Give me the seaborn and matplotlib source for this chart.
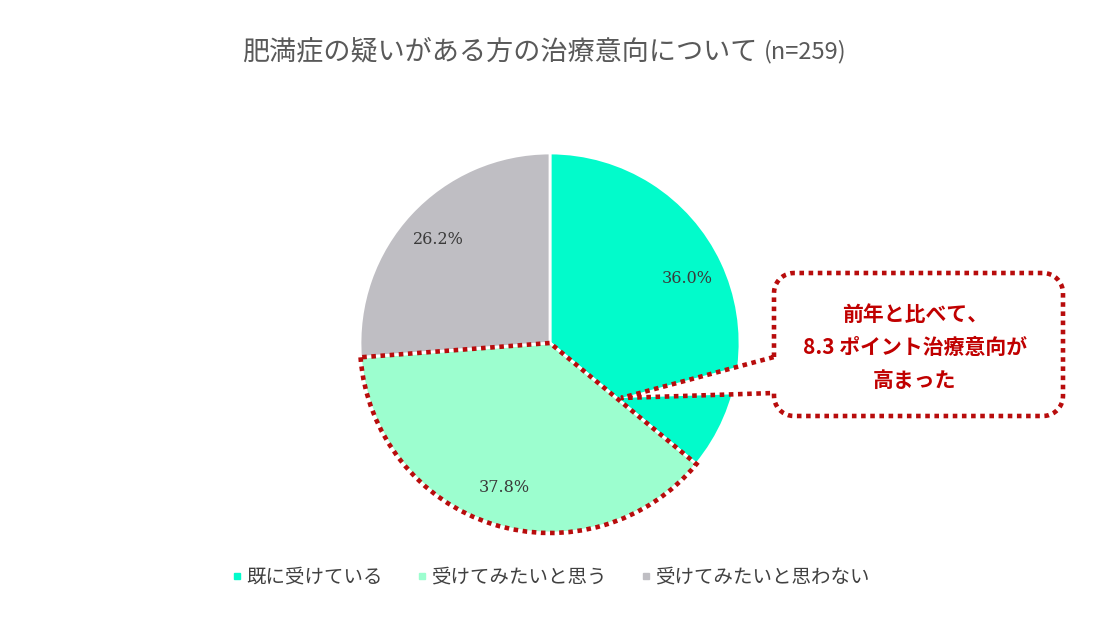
import numpy as np
import matplotlib
matplotlib.use("Agg")
import matplotlib.pyplot as plt
import seaborn as sns
from matplotlib.patches import Wedge, PathPatch
from matplotlib.path import Path
from matplotlib.lines import Line2D

categories = ["既に受けている", "受けてみたいと思う", "受けてみたいと思わない"]
values = [36.0, 37.8, 26.2]
colors = ["#02FBCB", "#9CFECF", "#BFBEC3"]
title_main = "肥満症の疑いがある方の治療意向について"
title_n = "(n=259)"
callout_lines = ["前年と比べて、", "8.3 ポイント治療意向が", "高まった"]
highlight_index = 1

sns.set_theme(style="white")
plt.rcParams['font.family'] = ['Noto Sans CJK JP', 'DejaVu Sans']

W, H = 1108, 640
fig = plt.figure(figsize=(W / 100, H / 100), dpi=100)
fig.patch.set_facecolor("white")

# pie axes: center (550,343) px, radius 190 px
cx, cy, r = 550, 343, 190
ax = fig.add_axes([(cx - r) / W, (H - cy - r) / H, 2 * r / W, 2 * r / H])
wedges, _, autotexts = ax.pie(
    values, colors=colors, startangle=90, counterclock=False,
    autopct="%.1f%%", pctdistance=0.8,
    wedgeprops=dict(edgecolor="white", linewidth=2),
    textprops=dict(fontsize=11.5, color="#3a3a3a", family="DejaVu Serif"),
)
ax.set_xlim(-1, 1)
ax.set_ylim(-1, 1)
ax.set_aspect("equal")
ax.axis("off")

# dotted outline around the highlighted slice
hw = wedges[highlight_index]
outline = Wedge((0, 0), 1.0, hw.theta1, hw.theta2, fill=False,
                edgecolor="#B80C0C", linewidth=3.3, linestyle=(0, (1.0, 1.0)),
                zorder=5, clip_on=False)
ax.add_patch(outline)

# overlay axes in pixel coords for callout
ov = fig.add_axes([0, 0, 1, 1], zorder=10)
ov.set_xlim(0, W)
ov.set_ylim(H, 0)
ov.axis("off")
ov.patch.set_alpha(0)

x0, x1, y0, y1, rc = 774, 1063, 273, 416, 20
tip = (621, 398)
pts = []
def arc(cxa, cya, a0, a1):
    t = np.linspace(np.radians(a0), np.radians(a1), 12)
    return [(cxa + rc * np.cos(a), cya + rc * np.sin(a)) for a in t]
pts.append((x0, 357))
pts += arc(x0 + rc, y0 + rc, 180, 270)
pts += arc(x1 - rc, y0 + rc, 270, 360)
pts += arc(x1 - rc, y1 - rc, 0, 90)
pts += arc(x0 + rc, y1 - rc, 90, 180)
pts.append((x0, 393))
pts.append(tip)
pts.append((x0, 357))
codes = [Path.MOVETO] + [Path.LINETO] * (len(pts) - 2) + [Path.CLOSEPOLY]
patch = PathPatch(Path(pts, codes), facecolor="white", edgecolor="#B80C0C",
                  linewidth=3.3, linestyle=(0, (1.0, 1.0)))
ov.add_patch(patch)
for i, line in enumerate(callout_lines):
    ov.text(915, 314 + i * 33, line, ha="center", va="center",
            fontsize=15, fontweight="bold", color="#C00000")

# title
t1 = fig.text(242 / W, 1 - 52 / H, title_main, ha="left", va="center",
              fontsize=19.5, color="#595959")
fig.canvas.draw()
bb = t1.get_window_extent()
fig.text(bb.x1 / W + 7 / W, 1 - 52 / H, title_n, ha="left", va="center",
         fontsize=17, color="#595959")

# legend
handles = [Line2D([], [], marker="s", linestyle="none", markersize=4.5,
                  markerfacecolor=c, markeredgecolor=c) for c in colors]
fig.legend(handles, categories, loc="center", bbox_to_anchor=(550 / W, 1 - 577 / H),
           ncol=3, frameon=False, fontsize=14, labelcolor="#404040",
           handletextpad=0.1, columnspacing=1.7, handlelength=0.7)

fig.savefig("out.png", dpi=100, facecolor="white")
